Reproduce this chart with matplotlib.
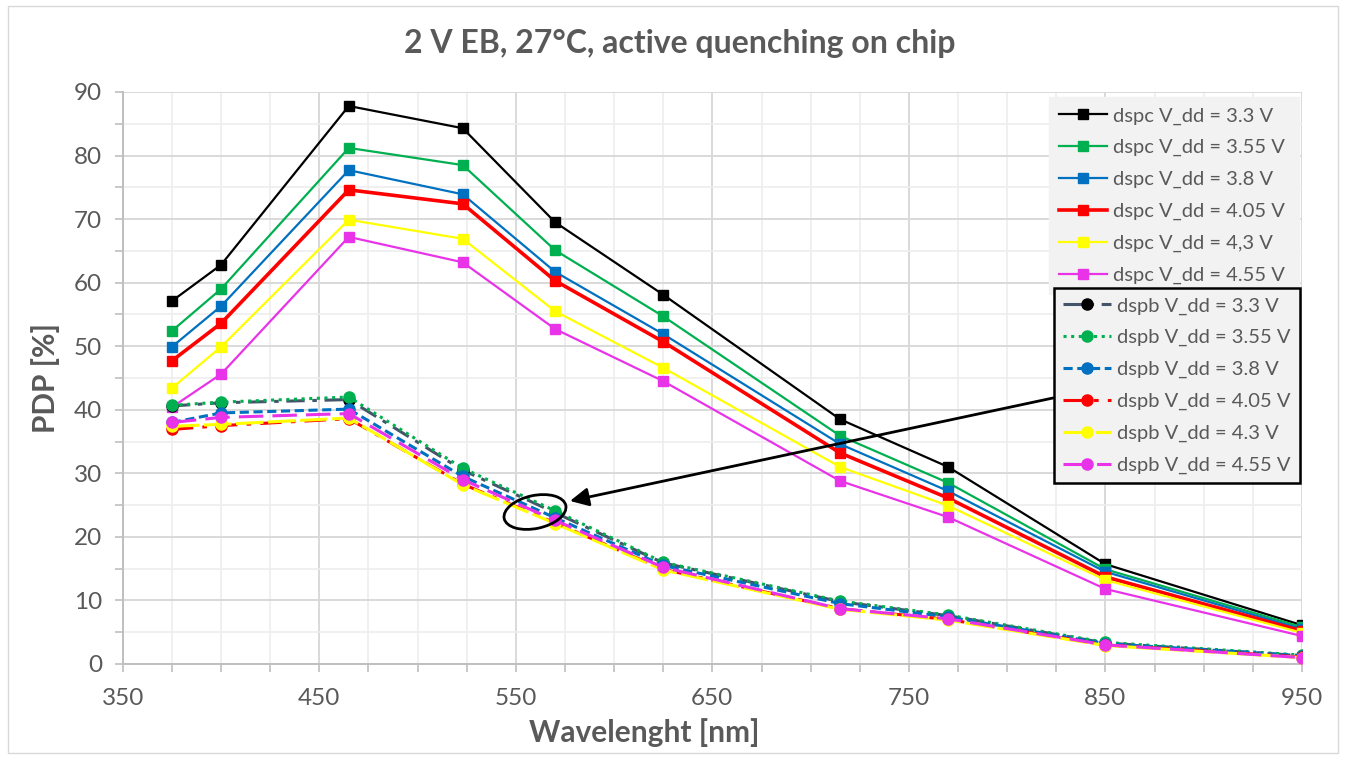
import matplotlib
matplotlib.use("Agg")
import matplotlib.pyplot as plt
from matplotlib.patches import Ellipse, Rectangle
from matplotlib.ticker import MultipleLocator

plt.rcParams['font.family'] = ['Lato', 'DejaVu Sans']

wavelength = [375, 400, 465, 523, 570, 625, 715, 770, 850, 950]

dspc_labels = ["dspc V_dd = 3.3 V", "dspc V_dd = 3.55 V", "dspc V_dd = 3.8 V",
               "dspc V_dd = 4.05 V", "dspc V_dd = 4,3 V", "dspc V_dd = 4.55 V"]
dspc_33 = [57.1, 62.8, 87.8, 84.3, 69.5, 58.1, 38.5, 31.0, 15.7, 6.1]
dspc_355 = [52.4, 59.0, 81.2, 78.5, 65.1, 54.7, 35.9, 28.5, 14.9, 5.8]
dspc_38 = [49.9, 56.3, 77.7, 73.9, 61.7, 51.9, 34.6, 27.2, 14.5, 5.5]
dspc_405 = [47.7, 53.6, 74.6, 72.4, 60.3, 50.7, 33.2, 26.1, 13.7, 5.2]
dspc_43 = [43.4, 49.9, 69.9, 66.9, 55.5, 46.6, 31.0, 24.9, 13.2, 4.9]
dspc_455 = [40.4, 45.6, 67.2, 63.2, 52.7, 44.5, 28.8, 23.1, 11.8, 4.4]

dspb_labels = ["dspb V_dd = 3.3 V", "dspb V_dd = 3.55 V", "dspb V_dd = 3.8 V",
               "dspb V_dd = 4.05 V", "dspb V_dd = 4.3 V", "dspb V_dd = 4.55 V"]
dspb_33 = [40.6, 41.1, 41.6, 30.5, 23.8, 15.9, 9.8, 7.6, 3.3, 1.3]
dspb_355 = [40.7, 41.2, 42.0, 30.8, 24.1, 16.0, 9.9, 7.7, 3.4, 1.4]
dspb_38 = [38.0, 39.5, 40.1, 29.5, 23.0, 15.5, 9.5, 7.4, 3.2, 1.3]
dspb_405 = [36.9, 37.5, 38.6, 28.3, 22.2, 14.9, 8.7, 7.0, 3.0, 1.1]
dspb_43 = [37.4, 37.7, 38.7, 28.2, 22.1, 14.8, 8.6, 6.9, 2.9, 1.0]
dspb_455 = [38.0, 38.8, 39.4, 29.0, 22.6, 15.2, 8.7, 7.1, 3.0, 1.0]

dspc_series = [dspc_33, dspc_355, dspc_38, dspc_405, dspc_43, dspc_455]
dspb_series = [dspb_33, dspb_355, dspb_38, dspb_405, dspb_43, dspb_455]

dspc_colors = ["#000000", "#00B050", "#0070C0", "#FF0000", "#FFFF00", "#E833E8"]
dspc_widths = [1.6, 1.6, 1.6, 2.6, 1.6, 1.6]
dspb_line_colors = ["#44546A", "#00B050", "#0070C0", "#FF0000", "#FFFF00", "#E833E8"]
dspb_marker_colors = ["#000000", "#00B050", "#0070C0", "#FF0000", "#FFFF00", "#E833E8"]
dspb_styles = [(0, (6, 2.5, 1.5, 2.5)), (0, (1, 1.5)), (0, (3, 1.5)),
               (0, (7, 3, 1.5, 3)), (0, (9, 1.5)), (0, (8, 3))]

text_color = "#595959"

fig = plt.figure(figsize=(13.46, 7.59), dpi=100)
ax = fig.add_axes([0.0912, 0.1252, 0.8761, 0.7536])

dspc_handles = []
for vals, col, lw, lab in zip(dspc_series, dspc_colors, dspc_widths, dspc_labels):
    h, = ax.plot(wavelength, vals, color=col, lw=lw, marker='s', markersize=7,
                 markerfacecolor=col, markeredgecolor=col, label=lab, zorder=3)
    dspc_handles.append(h)

dspb_handles = []
for vals, lc, mc, ls, lab in zip(dspb_series, dspb_line_colors, dspb_marker_colors,
                                 dspb_styles, dspb_labels):
    h, = ax.plot(wavelength, vals, color=lc, lw=2.2, linestyle=ls, marker='o',
                 markersize=8, markerfacecolor=mc, markeredgecolor=mc, label=lab,
                 zorder=3)
    dspb_handles.append(h)

ax.set_xlim(350, 950)
ax.set_ylim(0, 90)
ax.xaxis.set_major_locator(MultipleLocator(100, offset=50))
ax.xaxis.set_minor_locator(MultipleLocator(25))
ax.yaxis.set_major_locator(MultipleLocator(10))
ax.yaxis.set_minor_locator(MultipleLocator(5))
ax.grid(which='major', color='#d9d9d9', lw=1.4, zorder=0)
ax.grid(which='minor', color='#eeeeee', lw=1.2, zorder=0)
ax.set_axisbelow(True)
for s in ['top', 'right']:
    ax.spines[s].set_visible(False)
for s in ['left', 'bottom']:
    ax.spines[s].set_color('#bfbfbf')
    ax.spines[s].set_linewidth(1.4)
ax.tick_params(which='both', direction='out', color='#bfbfbf', width=1.2)
ax.tick_params(which='major', length=6, labelsize=17.5, labelcolor=text_color)
ax.tick_params(axis='x', which='major', pad=11)
ax.tick_params(axis='y', which='major', pad=9)
ax.tick_params(which='minor', length=6)

ax.set_xlabel("Wavelenght [nm]", fontsize=21.5, fontweight='bold', color=text_color)
ax.xaxis.label.set_va('center')
ax.xaxis.set_label_coords(0.442, -0.12)
ax.set_ylabel("PDP [%]", fontsize=21.5, fontweight='bold', color=text_color, labelpad=10)
fig.text(0.505, 0.943, "2 V EB, 27°C, active quenching on chip", ha='center', va='center',
         fontsize=23, fontweight='bold', color=text_color)

leg_kw = dict(fontsize=14.5, labelcolor=text_color, handlelength=2.4, handletextpad=0.3,
              labelspacing=0.72, fancybox=False, framealpha=1,
              borderaxespad=0, mode='expand')
leg1 = ax.legend(handles=dspc_handles, loc='upper left', borderpad=0.5,
                 bbox_to_anchor=(0.7853, 0.666, 0.2122, 0.325), **leg_kw)
leg1.get_frame().set_facecolor('#f2f2f2')
leg1.get_frame().set_edgecolor('#f2f2f2')
ax.add_artist(leg1)
leg2 = ax.legend(handles=dspb_handles, loc='upper left', borderpad=0.45,
                 bbox_to_anchor=(0.7895, 0.313, 0.2085, 0.344), **leg_kw)
leg2.get_frame().set_facecolor('#f2f2f2')
leg2.get_frame().set_edgecolor('#000000')
leg2.get_frame().set_linewidth(1.8)
leg1.set_zorder(5)
leg2.set_zorder(6)

# annotation: ellipse and arrow
ell = Ellipse((5.35, 7.59 - 5.12), 0.63, 0.33, angle=12, transform=fig.dpi_scale_trans,
              fill=False, edgecolor='black', lw=2, zorder=6)
fig.patches.append(ell)
ax.annotate("", xy=(570, 759 - 501), xycoords='figure pixels',
            xytext=(1053, 759 - 398), textcoords='figure pixels',
            arrowprops=dict(arrowstyle='-|>', color='black', lw=2, mutation_scale=28,
                            shrinkA=0, shrinkB=0), zorder=6)

fig.patches.append(Rectangle((0.006, 0.008), 0.988, 0.984, transform=fig.transFigure,
                             fill=False, edgecolor='#d9d9d9', lw=1))

fig.savefig("out.png", dpi=100)
